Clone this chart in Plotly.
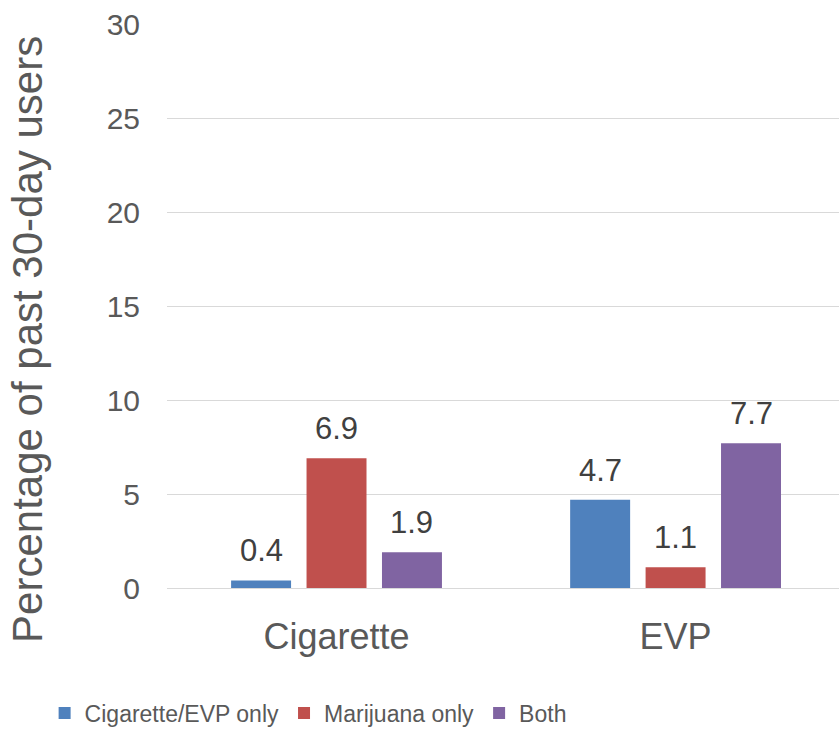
import plotly.graph_objects as go

# Substance categories and percentages of past 30-day users
categories = ["Cigarette", "EVP"]
series_names = ["Cigarette/EVP only", "Marijuana only", "Both"]
series_values = [
    [0.4, 4.7],
    [6.9, 1.1],
    [1.9, 7.7],
]
series_colors = ["#4F81BD", "#C0504D", "#8064A2"]
y_ticks = [0, 5, 10, 15, 20, 25, 30]

FONT = "Liberation Sans, Arial, sans-serif"
BAR_GAP = 0.3325
GROUP_GAP = 0.205

fig = go.Figure()
for name, vals, color in zip(series_names, series_values, series_colors):
    fig.add_trace(go.Bar(
        x=categories, y=vals, name=name,
        marker=dict(color=color, line=dict(width=0)),
    ))

# value labels above each bar
n = len(series_names)
slot = (1 - BAR_GAP) / n
for k, vals in enumerate(series_values):
    for i, v in enumerate(vals):
        fig.add_annotation(
            x=i + (k - (n - 1) / 2) * slot, y=v, xref="x", yref="y",
            text=f"{v:.1f}", showarrow=False, yanchor="bottom",
            yshift=10, font=dict(family=FONT, size=31, color="#404040"),
        )

# rotated y-axis title
fig.add_annotation(
    text="Percentage of past 30-day users", textangle=-90,
    xref="paper", yref="paper", x=-0.207, y=0.4415,
    xanchor="center", yanchor="middle", showarrow=False,
    font=dict(family=FONT, size=42, color="#595959"),
)

fig.update_layout(
    width=839, height=729, autosize=False,
    margin=dict(l=167, r=0, t=24, b=141, autoexpand=False),
    paper_bgcolor="white", plot_bgcolor="white",
    barmode="group", bargap=BAR_GAP, bargroupgap=GROUP_GAP,
    showlegend=True,
    legend=dict(
        orientation="h", x=0.21, xanchor="center", y=-0.2216, yanchor="middle",
        font=dict(family=FONT, size=23, color="#595959"),
        traceorder="normal",
    ),
    xaxis=dict(
        range=[-0.5, 1.482], showgrid=False, showline=False, ticks="",
        tickfont=dict(family=FONT, size=36, color="#595959"),
        ticklabelstandoff=24, automargin=False,
    ),
    yaxis=dict(
        range=[0, 30], tickvals=y_ticks, showgrid=True, gridcolor="#D9D9D9",
        gridwidth=1.3, zeroline=True, zerolinecolor="#D9D9D9", zerolinewidth=1.3,
        showline=False, ticks="",
        tickfont=dict(family=FONT, size=30, color="#595959"),
        ticklabelstandoff=26, automargin=False,
    ),
)

fig.write_html("out.html")
